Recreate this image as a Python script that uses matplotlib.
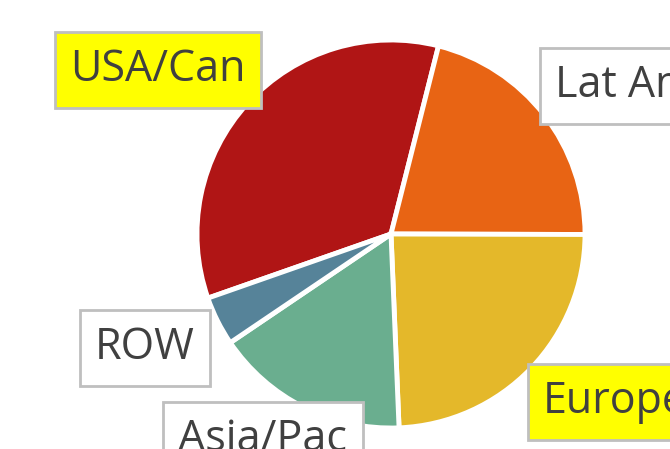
import matplotlib
matplotlib.use("Agg")
import matplotlib.pyplot as plt

# region shares
regions = ["USA/Can", "Lat Am", "Europe", "Asia/Pac", "ROW"]
shares = [34.3, 21.1, 24.3, 16.2, 4.1]
colors = ["#B01515", "#E86414", "#E4B82A", "#6AAE8F", "#568399"]
highlight = [True, False, True, False, False]
explode = [0, 0, 0.02, 0.01, 0.03]

W, H = 670, 449
fig = plt.figure(figsize=(W / 100, H / 100), dpi=100)
ax = fig.add_axes([0, 0, 1, 1])

ax.pie(shares, colors=colors, startangle=199.3, counterclock=False,
       explode=explode, center=(391, H - 234), radius=194,
       wedgeprops=dict(edgecolor="white", linewidth=3.5))
ax.set_xlim(0, W)
ax.set_ylim(0, H)
ax.set_aspect("equal")
ax.axis("off")

# label anchor points (left x, baseline y in image pixels)
label_pos = {
    "USA/Can": (70, 81),
    "Lat Am": (555, 97),
    "Europe": (543, 413),
    "Asia/Pac": (178, 451),
    "ROW": (95, 359),
}

for name, hl in zip(regions, highlight):
    x, y = label_pos[name]
    ax.text(x, H - y, name, ha="left", va="baseline", fontsize=31,
            family="Open Sans", color="#404040",
            bbox=dict(boxstyle="square,pad=0.36",
                      facecolor="#FFFF00" if hl else "white",
                      edgecolor="#BFBFBF", linewidth=2))

fig.savefig("out.png", dpi=100)
